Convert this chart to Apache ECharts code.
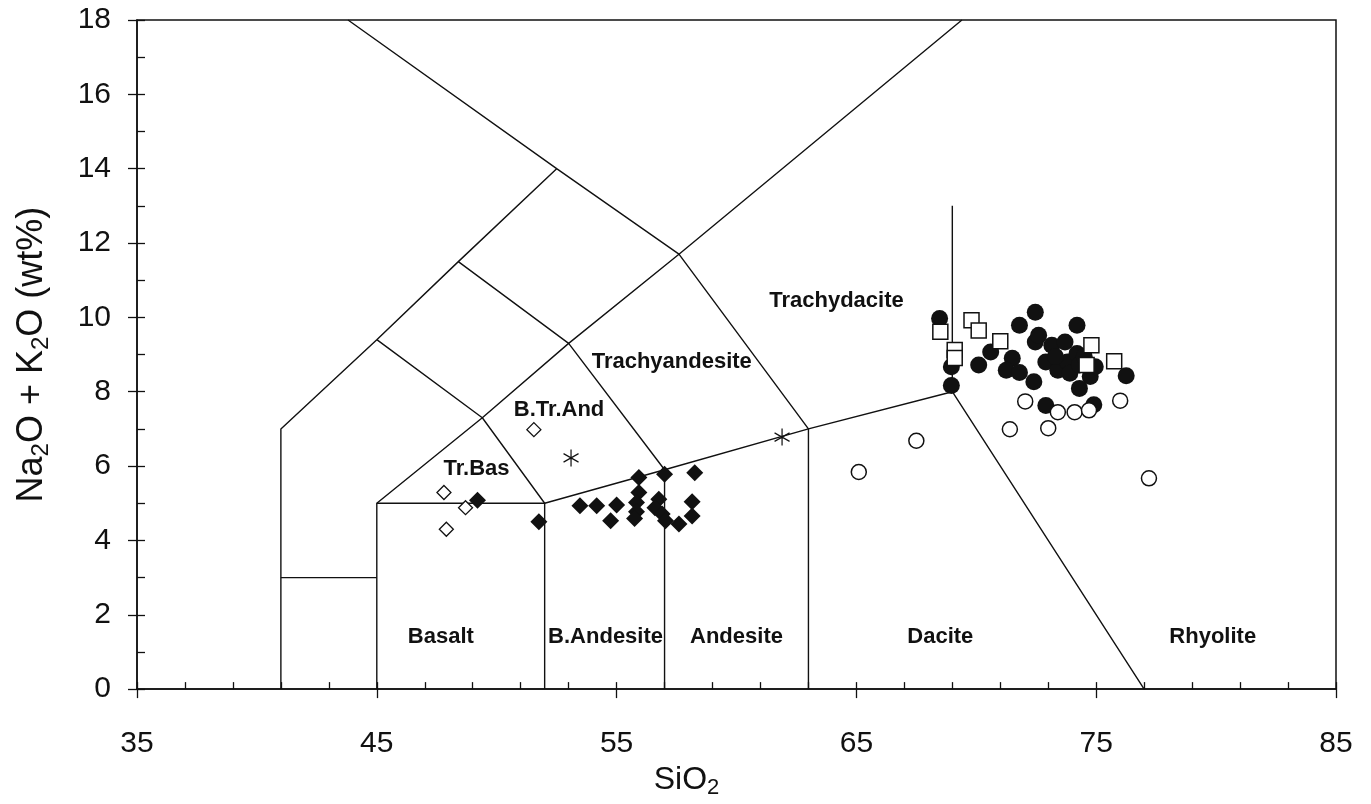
<!DOCTYPE html>
<html>
<head>
<meta charset="utf-8">
<script src="https://cdn.jsdelivr.net/npm/echarts@6/dist/echarts.min.js"></script>
<style>
html,body{margin:0;padding:0;background:#fff;}
#chart{width:1371px;height:804px;}
</style>
</head>
<body>
<div id="chart"></div>
<script>
// ---- axis ticks ----
const xTicks = [35, 45, 55, 65, 75, 85];
const yTicks = [0, 2, 4, 6, 8, 10, 12, 14, 16, 18];

// ---- TAS field boundaries (SiO2, Na2O+K2O) ----
const bndOuterLeft   = [[41,0],[41,7],[45,9.4],[48.4,11.5],[52.5,14]];
const bndTopLeft     = [[43.8,18],[52.5,14],[57.6,11.7],[63,7],[63,0]];
const bndPicro       = [[41,3],[45,3]];
const bndAlkaline    = [[45,0],[45,5],[49.4,7.3],[53,9.3],[57.6,11.7],[69.4,18]];
const bndSubalkaline = [[45,5],[52,5],[57,5.9],[63,7],[69,8],[77,0]];
const bndBasAnd      = [[52,0],[52,5],[49.4,7.3],[45,9.4]];
const bndAndesite    = [[57,0],[57,5.9],[53,9.3],[48.4,11.5]];
const bndRhyolite    = [[69,8],[69,13]];

// ---- field labels ----
const fieldNames = ['Trachydacite','Trachyandesite','B.Tr.And','Tr.Bas','Basalt','B.Andesite','Andesite','Dacite','Rhyolite'];
const fieldX     = [64.17, 57.3, 52.6, 49.16, 47.67, 54.54, 60.0, 68.5, 79.86];
const fieldY     = [10.44, 8.79, 7.51, 5.91, 1.41, 1.41, 1.41, 1.41, 1.41];

// ---- samples ----
const filledDiamonds = [[49.2,5.08],[51.76,4.5],[53.47,4.93],[54.17,4.93],[55.0,4.95],[54.75,4.53],[55.93,5.69],[55.93,5.29],[55.83,5.02],[55.83,4.77],[55.75,4.59],[56.76,5.11],[56.6,4.88],[56.9,4.71],[57.04,4.53],[57.0,5.78],[57.6,4.44],[58.15,5.04],[58.15,4.66],[58.26,5.82]];
const openDiamonds = [[47.8,5.29],[48.7,4.88],[47.9,4.3],[51.55,6.98]];
const asterisks = [[53.1,6.22],[61.9,6.78]];
const filledCircles = [[68.47,9.97],[68.96,8.67],[68.96,8.17],[70.1,8.72],[70.6,9.07],[71.8,9.79],[71.5,8.9],[71.25,8.58],[71.8,8.52],[72.46,10.14],[72.46,9.34],[72.4,8.27],[72.6,9.52],[73.15,9.25],[72.9,8.8],[73.4,8.58],[73.7,9.34],[73.8,8.8],[73.9,8.5],[74.2,9.79],[74.2,9.03],[74.3,8.72],[74.75,8.41],[74.96,8.67],[74.3,8.09],[76.25,8.43],[72.9,7.63],[74.9,7.65],[73.3,8.95],[74.5,8.95]];
const openSquares = [[68.5,9.61],[69.8,9.92],[70.1,9.65],[69.1,9.12],[69.1,8.91],[71.0,9.36],[74.8,9.25],[74.6,8.72],[75.75,8.82]];
const openCircles = [[65.1,5.84],[67.5,6.68],[71.4,6.99],[72.04,7.74],[73.0,7.02],[73.4,7.45],[74.1,7.45],[74.7,7.5],[76.0,7.76],[77.2,5.67]];

const INK = '#111111';
const FONT = 'Liberation Sans, Arial, sans-serif';
const boundaries = [bndOuterLeft, bndTopLeft, bndPicro, bndAlkaline, bndSubalkaline, bndBasAnd, bndAndesite, bndRhyolite];

const chart = echarts.init(document.getElementById('chart'), null, {renderer:'canvas'});

const lineSeries = boundaries.map(b => ({
  type:'line', data:b, showSymbol:false, symbol:'none', silent:true, z:2,
  lineStyle:{color:INK, width:1.4}
}));

function scatter(data, symbol, size, fill, border, bw, z){
  return {type:'scatter', data:data, symbol:symbol, symbolSize:size, z:z, silent:true,
    itemStyle:{color:fill, borderColor:border, borderWidth:bw, opacity:1}};
}

const labelData = fieldNames.map((n,i)=>({name:n, value:[fieldX[i], fieldY[i]]}));

const option = {
  animation:false,
  backgroundColor:'#fff',
  grid:{left:137, top:20, width:1199, height:673, show:true, borderColor:INK, borderWidth:1.5, backgroundColor:'transparent'},
  xAxis:[{
    type:'value', min:35, max:85, interval:10, position:'bottom',
    axisLine:{show:true, onZero:false, lineStyle:{color:INK, width:1.5}},
    axisTick:{show:true, inside:false, length:9, lineStyle:{color:INK, width:1.3}},
    splitLine:{show:false},
    axisLabel:{margin:40, fontSize:30, color:INK, fontFamily:FONT,
      formatter:(v)=> xTicks.includes(v) ? String(v) : ''},
    name:'{a|SiO}{b|2}', nameLocation:'middle', nameGap:68,
    nameTextStyle:{padding:[0,100,0,0], rich:{
      a:{fontSize:32, color:INK, fontFamily:FONT},
      b:{fontSize:22, color:INK, fontFamily:FONT, padding:[16,0,0,0]}}}
  },{
    type:'value', min:35, max:85, interval:2, position:'bottom',
    axisLine:{show:false}, splitLine:{show:false}, axisLabel:{show:false},
    axisTick:{show:true, inside:true, length:7, lineStyle:{color:INK, width:1.3}}
  }],
  yAxis:[{
    type:'value', min:0, max:18, interval:2, position:'left',
    axisLine:{show:true, onZero:false, lineStyle:{color:INK, width:1.5}},
    axisTick:{show:true, inside:false, length:9, lineStyle:{color:INK, width:1.3}},
    splitLine:{show:false},
    axisLabel:{margin:26, fontSize:30, color:INK, fontFamily:FONT,
      formatter:(v)=> yTicks.includes(v) ? String(v) : ''},
    name:'{a|Na}{b|2}{a|O + K}{b|2}{a|O (wt%)}', nameLocation:'middle', nameGap:84, nameRotate:90,
    nameTextStyle:{rich:{
      a:{fontSize:36, color:INK, fontFamily:FONT},
      b:{fontSize:24, color:INK, fontFamily:FONT, padding:[17,0,0,0]}}}
  },{
    type:'value', min:0, max:18, interval:1, position:'left',
    axisLine:{show:false}, splitLine:{show:false}, axisLabel:{show:false},
    axisTick:{show:true, inside:true, length:8, lineStyle:{color:INK, width:1.3}}
  }],
  series:[
    ...lineSeries,
    {type:'scatter', data:labelData, symbolSize:0, silent:true, z:3,
      itemStyle:{opacity:1, color:INK},
      label:{show:true, position:'inside', formatter:'{b}', color:INK, fontSize:22, fontWeight:'bold',
        fontFamily:FONT, opacity:1}},
    scatter(filledDiamonds, 'diamond', 17, INK, INK, 0, 5),
    scatter(openDiamonds, 'diamond', 14, '#fff', INK, 1.3, 5),
    scatter(asterisks, 'path://M0,-1L0,1M-0.866,-0.5L0.866,0.5M-0.866,0.5L0.866,-0.5', [15,17], 'none', INK, 1.3, 5),
    scatter(filledCircles, 'circle', 17, INK, INK, 0, 5),
    scatter(openSquares, 'rect', 15, '#fff', INK, 1.5, 6),
    scatter(openCircles, 'circle', 15, '#fff', INK, 1.5, 7)
  ]
};
chart.setOption(option);
</script>
</body>
</html>
